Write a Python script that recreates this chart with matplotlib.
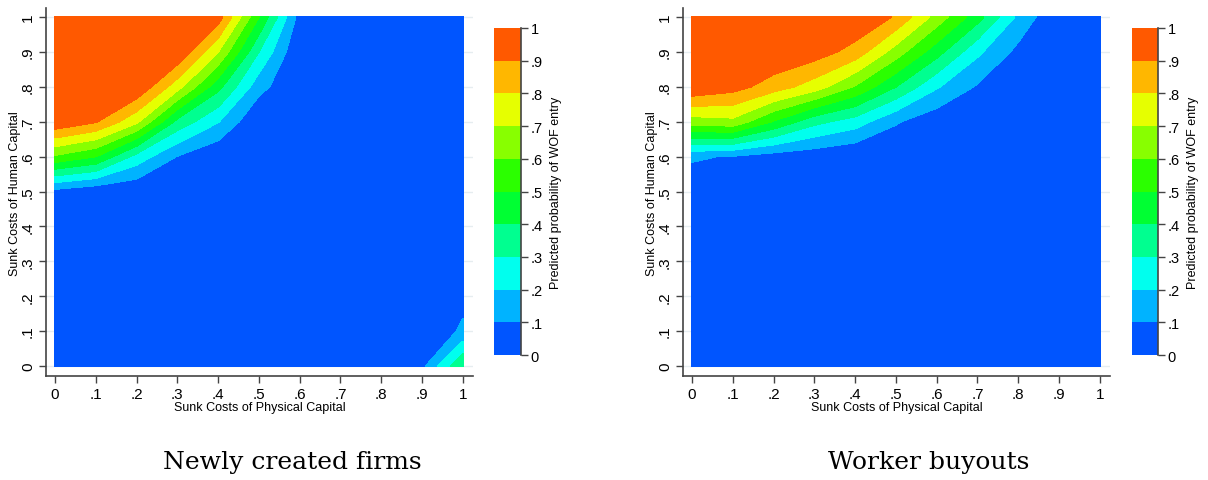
import numpy as np
import matplotlib.pyplot as plt

plt.rcParams['font.family'] = ['Liberation Sans', 'DejaVu Sans']

# grid of the predicted surface (x = physical capital, y = human capital)
physical_capital = [0.0, 0.1, 0.2, 0.3, 0.4, 0.5, 0.6, 0.7, 0.8, 0.9, 1.0]
human_capital = [0.0, 0.1, 0.2, 0.3, 0.4, 0.5, 0.6, 0.7, 0.8, 0.9, 1.0]

levels = [0, .1, .2, .3, .4, .5, .6, .7, .8, .9, 1]
tick_labels = ['0', '.1', '.2', '.3', '.4', '.5', '.6', '.7', '.8', '.9', '1']
level_colors = ['#0055FF', '#00B3FF', '#00FFEE', '#00FF90', '#00FF33',
                '#2BFF00', '#88FF00', '#E6FF00', '#FFB700', '#FF5900']

# rows: human capital 0 -> 1, columns: physical capital 0 -> 1
new_firms_prob = [
    [0.00, 0.00, 0.00, 0.00, 0.00, 0.00, 0.00, 0.01, 0.02, 0.07, 0.40],
    [0.00, 0.00, 0.00, 0.00, 0.00, 0.00, 0.00, 0.00, 0.01, 0.02, 0.114],
    [0.00, 0.00, 0.00, 0.00, 0.00, 0.00, 0.00, 0.00, 0.00, 0.01, 0.075],
    [0.00, 0.00, 0.00, 0.00, 0.00, 0.00, 0.00, 0.00, 0.00, 0.00, 0.04],
    [0.01, 0.00, 0.00, 0.00, 0.00, 0.00, 0.00, 0.00, 0.00, 0.00, 0.02],
    [0.064, 0.018, 0.01, 0.00, 0.00, 0.00, 0.00, 0.00, 0.00, 0.00, 0.01],
    [0.583, 0.50, 0.26, 0.095, 0.01, 0.00, 0.00, 0.00, 0.00, 0.00, 0.00],
    [0.984, 0.908, 0.72, 0.368, 0.205, 0.00, 0.00, 0.00, 0.00, 0.00, 0.00],
    [0.998, 0.99, 0.99, 0.74, 0.43, 0.135, 0.00, 0.00, 0.00, 0.00, 0.00],
    [0.999, 0.998, 0.995, 0.99, 0.70, 0.30, 0.00, 0.00, 0.00, 0.00, 0.00],
    [0.999, 0.999, 0.998, 0.995, 0.95, 0.50, 0.056, 0.00, 0.00, 0.00, 0.00],
]

buyout_prob = [
    [0.00, 0.00, 0.00, 0.00, 0.00, 0.00, 0.00, 0.00, 0.00, 0.00, 0.00],
    [0.00, 0.00, 0.00, 0.00, 0.00, 0.00, 0.00, 0.00, 0.00, 0.00, 0.00],
    [0.00, 0.00, 0.00, 0.00, 0.00, 0.00, 0.00, 0.00, 0.00, 0.00, 0.00],
    [0.00, 0.00, 0.00, 0.00, 0.00, 0.00, 0.00, 0.00, 0.00, 0.00, 0.00],
    [0.00, 0.00, 0.00, 0.00, 0.00, 0.00, 0.00, 0.00, 0.00, 0.00, 0.00],
    [0.02, 0.005, 0.00, 0.00, 0.00, 0.00, 0.00, 0.00, 0.00, 0.00, 0.00],
    [0.115, 0.09, 0.05, 0.03, 0.00, 0.00, 0.00, 0.00, 0.00, 0.00, 0.00],
    [0.648, 0.67, 0.49, 0.33, 0.25, 0.11, 0.03, 0.00, 0.00, 0.00, 0.00],
    [0.99, 0.94, 0.85, 0.75, 0.59, 0.40, 0.21, 0.088, 0.00, 0.00, 0.00],
    [0.999, 0.995, 0.99, 0.95, 0.86, 0.65, 0.44, 0.22, 0.07, 0.00, 0.00],
    [0.999, 0.999, 0.998, 0.99, 0.99, 0.888, 0.66, 0.44, 0.176, 0.00, 0.00],
]

W, H = 1208, 481
axis_color = '#444444'


def px_rect(x0, y_top, x1, y_bottom):
    return [x0 / W, 1 - y_bottom / H, (x1 - x0) / W, (y_bottom - y_top) / H]


def draw_panel(fig, ax_rect, cbar_rect, prob, caption, caption_x):
    ax = fig.add_axes(ax_rect)
    cs = ax.contourf(physical_capital, human_capital, np.array(prob),
                     levels=levels, colors=level_colors, zorder=2)
    cs.set_edgecolor('face')
    cs.set_linewidth(0.4)
    ax.set_xlim(-0.022, 1.025)
    ax.set_ylim(-0.0287, 1.025)
    for side in ['top', 'right']:
        ax.spines[side].set_visible(False)
    for side in ['left', 'bottom']:
        ax.spines[side].set_color(axis_color)
        ax.spines[side].set_linewidth(1.2)
    ax.set_xticks(levels)
    ax.set_xticklabels(tick_labels)
    ax.set_yticks(levels)
    ax.set_yticklabels(tick_labels, rotation=90, va='center')
    ax.tick_params(direction='out', length=5, width=1, color=axis_color,
                   labelsize=11, pad=3)
    ax.grid(axis='y', color='#e6edf0', linewidth=1, zorder=0)
    ax.set_axisbelow(True)
    ax.set_xlabel('Sunk Costs of Physical Capital', size=9, labelpad=0)
    ax.set_ylabel('Sunk Costs of Human Capital', size=9, labelpad=0)

    cax = fig.add_axes(cbar_rect)
    cbar = fig.colorbar(cs, cax=cax, ticks=levels)
    cbar.ax.set_yticklabels(tick_labels)
    cbar.outline.set_visible(False)
    cax.plot([1, 1], [0, 1], transform=cax.transAxes, color=axis_color,
             lw=1.2, clip_on=False)
    cax.tick_params(length=5, width=1, color=axis_color, labelsize=10.5, pad=2)
    cbar.set_label('Predicted probability of WOF entry', size=9, labelpad=5)

    fig.text(caption_x / W, 1 - 462 / H, caption, ha='center', va='center',
             family='DejaVu Serif', size=18)


fig = plt.figure(figsize=(W / 100, H / 100), dpi=100)
draw_panel(fig, px_rect(46, 9.3, 473, 377), px_rect(494, 29, 521, 356),
           new_firms_prob, 'Newly created firms', 292)
draw_panel(fig, px_rect(683, 9.3, 1110, 377), px_rect(1132, 29, 1158, 356),
           buyout_prob, 'Worker buyouts', 929)

fig.savefig('out.png', dpi=100, facecolor='white')
